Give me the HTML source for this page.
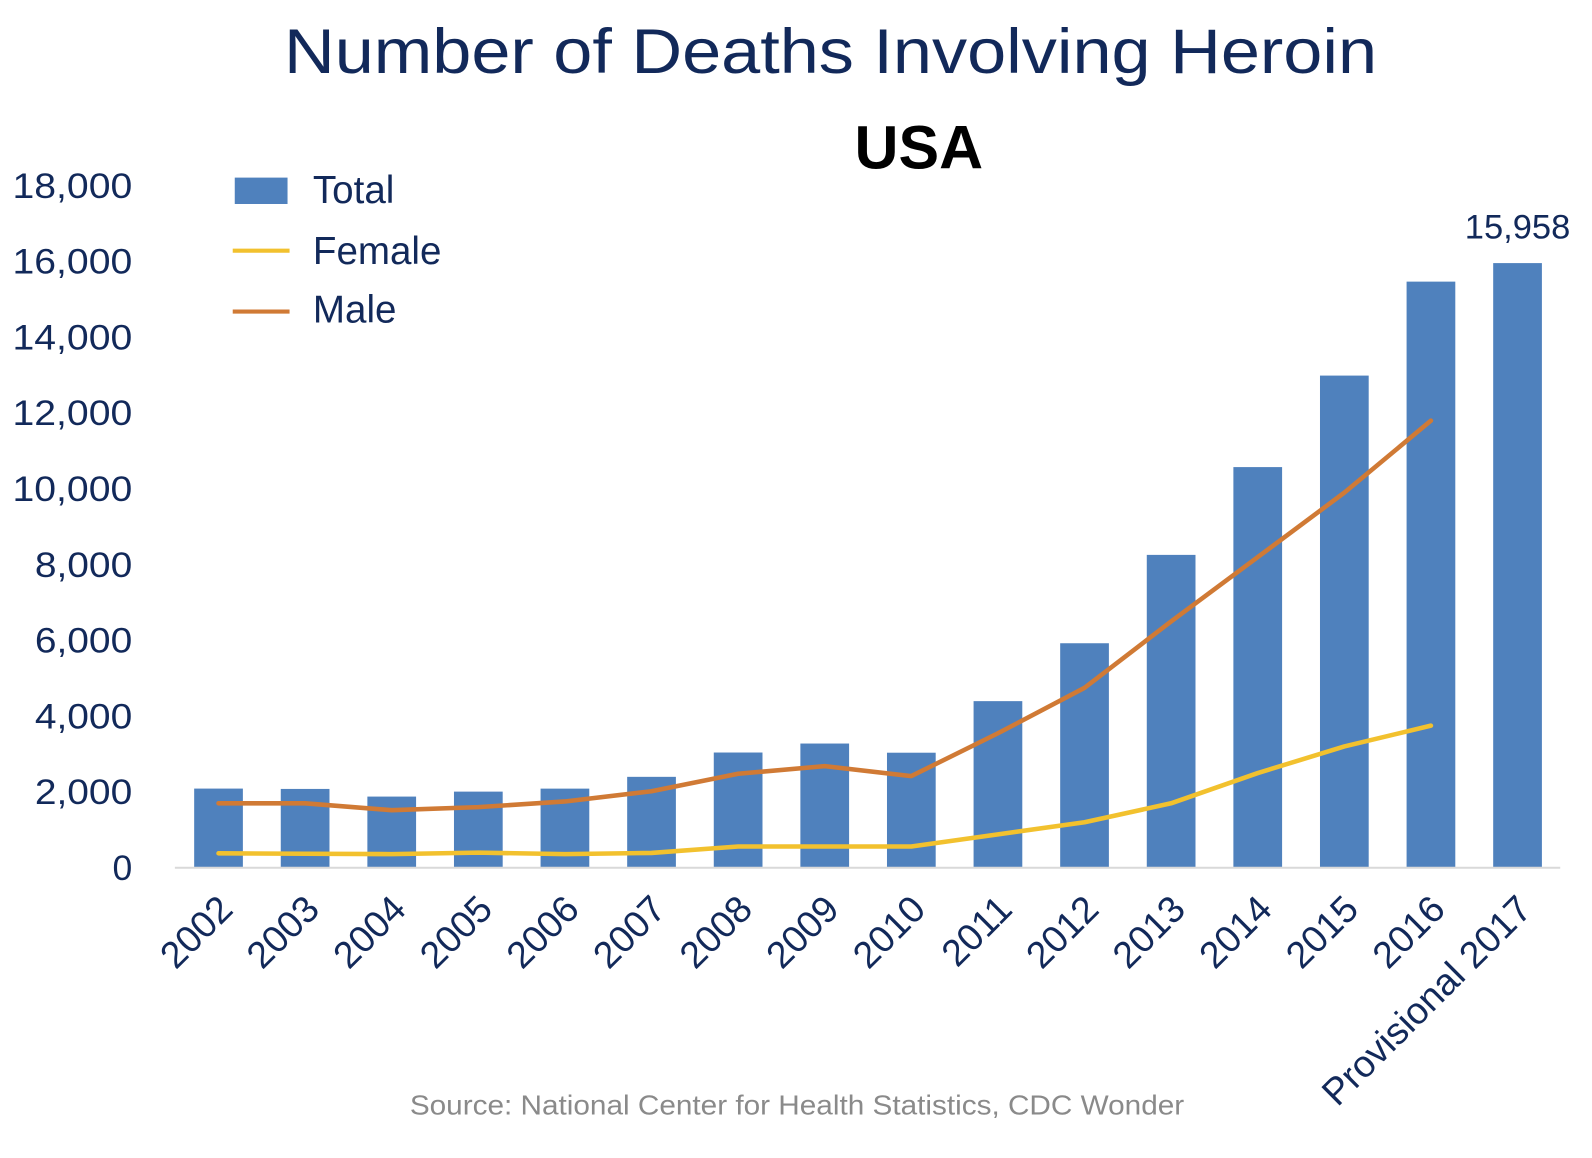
<!DOCTYPE html>
<html><head><meta charset="utf-8"><style>
body{margin:0;background:#fff;}
svg{display:block;font-family:"Liberation Sans",sans-serif;}
</style></head><body>
<svg id="chart" width="1592" height="1158" viewBox="0 0 1568 1141">
<text x="818" y="72" text-anchor="middle" font-size="62" fill="#12295a" textLength="1077" lengthAdjust="spacingAndGlyphs">Number of Deaths Involving Heroin</text>
<text x="905" y="166" text-anchor="middle" font-size="60" font-weight="bold" fill="#000">USA</text>
<g id="yaxis"></g>
<g id="bars"></g>
<g id="lines"></g>
<g id="xaxis"></g>
<g>
<rect x="231" y="175" width="52" height="26" fill="#4f81bd"/>
<text x="308" y="200" font-size="38" fill="#12295a">Total</text>
<line x1="229" y1="247" x2="285" y2="247" stroke="#f2c12e" stroke-width="4"/>
<text x="308" y="260" font-size="38" fill="#12295a">Female</text>
<line x1="229" y1="307" x2="285" y2="307" stroke="#d07a35" stroke-width="4"/>
<text x="308" y="318" font-size="38" fill="#12295a">Male</text>
</g>
<text x="785" y="1098" text-anchor="middle" font-size="27" fill="#8a8a8a" textLength="763" lengthAdjust="spacingAndGlyphs">Source: National Center for Health Statistics, CDC Wonder</text>
</svg>
<script>
const categories=["2002","2003","2004","2005","2006","2007","2008","2009","2010","2011","2012","2013","2014","2015","2016","Provisional 2017"];
const totalValues=[2089,2080,1878,2009,2088,2399,3041,3278,3036,4397,5925,8257,10574,12989,15469,15958];
const maleValues=[1700,1700,1520,1600,1750,2020,2480,2680,2420,3550,4750,6500,8200,9900,11800];
const femaleValues=[380,370,360,400,360,390,560,560,560,880,1200,1700,2500,3200,3750];
const yTicks=[0,2000,4000,6000,8000,10000,12000,14000,16000,18000];
const ns="http://www.w3.org/2000/svg";
function y(v){return 855-v*(672/18000);}
function x(i){return 215+i*85.33;}
function mk(t,a,p){const e=document.createElementNS(ns,t);for(const k in a)e.setAttribute(k,a[k]);p.appendChild(e);return e;}
const ya=document.getElementById('yaxis');
yTicks.forEach(v=>{const s=v.toLocaleString('en-US');
const a={x:130,y:y(v)+12,'text-anchor':'end','font-size':35,fill:'#12295a'};
if(s.length===6){a.textLength=118;a.lengthAdjust='spacingAndGlyphs';}
if(s.length===5){a.textLength=96;a.lengthAdjust='spacingAndGlyphs';}
const t=mk('text',a,ya);


t.textContent=s;});
const bg=document.getElementById('bars');
totalValues.forEach((v,i)=>{const r=mk('rect',{x:x(i)-24,y:y(v),width:48,height:855-y(v),fill:'#4f81bd'},bg);

});
const last=totalValues.length-1;
const lbl=mk('text',{x:x(last),y:y(totalValues[last])-24,'text-anchor':'middle','font-size':34,fill:'#12295a'},bg);


lbl.textContent=totalValues[last].toLocaleString('en-US');
const xa=document.getElementById('xaxis');
const ax=mk('line',{x1:172,y1:855,x2:1537,y2:855,stroke:'#d9d9d9','stroke-width':2},xa);


categories.forEach((c,i)=>{const px=x(i)+16,py=898;
const t=mk('text',{x:px,y:py,'text-anchor':'end','font-size':37,fill:'#12295a',transform:`rotate(-45 ${px} ${py})`},xa);


t.textContent=c;});
const lg=document.getElementById('lines');
function line(vals,color,name){const d=vals.map((v,i)=>(i?'L':'M')+x(i).toFixed(1)+' '+y(v).toFixed(1)).join(' ');
const p=mk('path',{d:d,fill:'none',stroke:color,'stroke-width':4.5,'stroke-linejoin':'round','stroke-linecap':'round'},lg);

}
line(femaleValues,'#f2c12e','female-line');
line(maleValues,'#d07a35','male-line');
</script>
</body></html>
